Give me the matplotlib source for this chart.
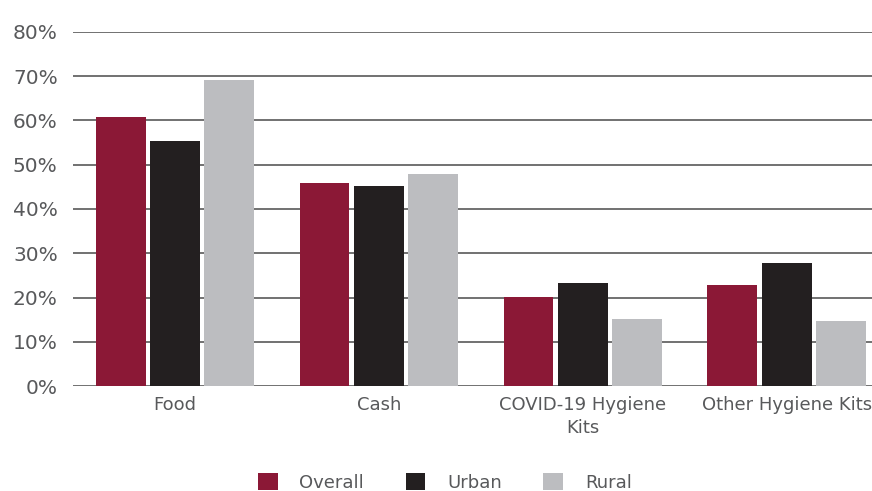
import numpy as np
import matplotlib.pyplot as plt
from matplotlib.patches import Patch

# ============== data
categories = ['Food', 'Cash', 'COVID-19 Hygiene\nKits', 'Other Hygiene Kits']
series_names = ['Overall', 'Urban', 'Rural']
overall = [60.8, 45.9, 20.2, 22.8]
urban = [55.4, 45.2, 23.3, 27.8]
rural = [69.2, 47.9, 15.1, 14.8]
yticks = [0, 10, 20, 30, 40, 50, 60, 70, 80]

colors = ['#8B1836', '#231F20', '#BCBDC0']
text_col = '#58595B'

plt.rcParams['font.family'] = ['DejaVu Sans']

fig = plt.figure(figsize=(8.72, 4.91), dpi=100)
ax = fig.add_axes([73 / 872, 105 / 491, 1 - 73 / 872, 354 / 491])

x = np.arange(len(categories))
width = 0.245
step = 0.267
for i, (vals, col) in enumerate(zip([overall, urban, rural], colors)):
    ax.bar(x + (i - 1) * step, vals, width, color=col, zorder=3)

ax.set_ylim(0, 80)
ax.set_xlim(-0.5, 3.417)
ax.set_yticks(yticks)
ax.set_yticklabels([f'{t}%' for t in yticks], fontsize=14.5, color=text_col)
ax.set_xticks(x)
ax.set_xticklabels(categories, fontsize=13, color=text_col, linespacing=1.4)
ax.tick_params(axis='both', length=0)
ax.tick_params(axis='y', pad=11)
ax.tick_params(axis='x', pad=7)
ax.grid(axis='y', color='#4a4a4a', linewidth=1.1, zorder=0)
for s in ax.spines.values():
    s.set_visible(False)

handles = [Patch(facecolor=c, edgecolor='none') for c in colors]
fig.legend(handles, series_names, loc='lower center', bbox_to_anchor=(0.51, -0.035),
           ncol=3, frameon=False, fontsize=13, handlelength=1.1, handleheight=1.1,
           handletextpad=1.2, columnspacing=2.3, labelcolor=text_col)

fig.savefig('out.png', dpi=100)
